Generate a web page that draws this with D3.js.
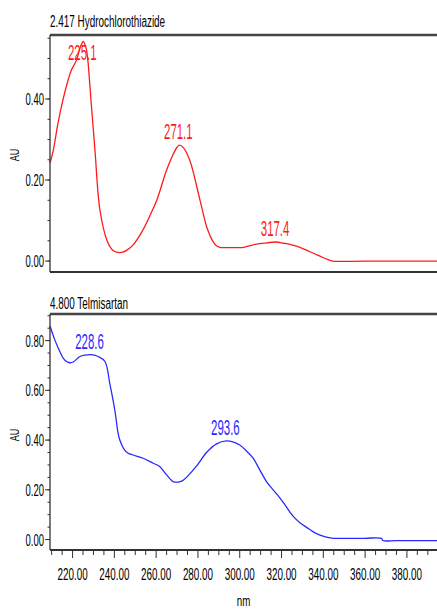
<!DOCTYPE html>
<html>
<head>
<meta charset="utf-8">
<script src="https://cdn.jsdelivr.net/npm/d3@7"></script>
<style>
  body { margin: 0; background: #fff; }
  svg { display: block; }
  text { font-family: "Liberation Sans", Arial, sans-serif; fill: #000; }
</style>
</head>
<body>
<div id="chart"></div>
<script>
// HCTZ spectrum (nm, AU)
const hctzNm = [209.2, 210.8, 213, 215.4, 217.5, 219.5, 221.9, 223.5, 225.1, 226.5, 227.3, 228.8, 230.7,
  233.1, 236.4, 239, 241, 244, 246, 249, 253.7, 257, 260.3, 265, 268, 270, 271.1, 273, 276, 281, 284.2,
  285.7, 287, 289, 290.5, 295, 301.8, 305, 308, 313, 317.4, 321, 324, 328.8, 333.6, 338.4, 342, 344.5, 360, 380, 394.4];
const hctzAu = [0.242, 0.274, 0.34, 0.398, 0.44, 0.472, 0.496, 0.525, 0.542, 0.525, 0.496, 0.398, 0.274,
  0.126, 0.052, 0.028, 0.022, 0.022, 0.027, 0.04, 0.077, 0.112, 0.15, 0.225, 0.262, 0.281, 0.286, 0.28, 0.25, 0.15, 0.084,
  0.064, 0.05, 0.037, 0.034, 0.033, 0.034, 0.038, 0.042, 0.045, 0.047, 0.044, 0.041, 0.034, 0.023, 0.012, 0.004, 0.0, 0.0, 0.0, 0.0];

// Telmisartan spectrum (nm, AU)
const telNm = [209.2, 211.5, 213.9, 215.5, 217.1, 218.7, 220.3, 223.5, 226, 228.6, 230.5, 232.2, 235.5,
  237.8, 240.2, 241.8, 242.6, 244.5, 246.6, 249, 253.8, 258.6, 261.8, 265, 268.1, 270.5, 272.5, 274.5,
  279.3, 284.1, 288.9, 293.6, 297, 300, 303, 306.4, 309.6, 312.8, 316, 319.2, 322.4,
  325.5, 328.8, 332, 335, 338.4, 341.5, 344.8, 352, 360, 367.8, 368.5, 375, 385, 394.4];
const telAu = [0.859, 0.803, 0.756, 0.73, 0.716, 0.711, 0.714, 0.736, 0.742, 0.744, 0.742, 0.736, 0.716,
  0.628, 0.521, 0.427, 0.40, 0.365, 0.347, 0.34, 0.327, 0.307, 0.293, 0.26, 0.233, 0.231, 0.236, 0.25,
  0.295, 0.35, 0.385, 0.397, 0.392, 0.38, 0.358, 0.327, 0.28, 0.233, 0.2, 0.168, 0.13,
  0.094, 0.068, 0.049, 0.032, 0.018, 0.01, 0.005, 0.005, 0.005, 0.005, -0.004, -0.004, -0.004, -0.004];

const hctzPeaks = [225.1, 271.1, 317.4];
const hctzPeakAu = [0.542, 0.286, 0.047];
const telPeaks = [228.6, 293.6];
const telPeakAu = [0.744, 0.397];

const xTicks = [220, 240, 260, 280, 300, 320, 340, 360, 380];

const W = 437, H = 609;
const left = 50, right = 437;

const svg = d3.select('#chart').append('svg')
  .attr('width', W).attr('height', H);

const x = d3.scaleLinear().domain([209.2, 394.4]).range([left, right]);

// condensed text helper
const label = (g, px, py, str, opts = {}) => {
  const t = g.append('text')
    .attr('transform', `translate(${px},${py})${opts.rotate ? ' rotate(' + opts.rotate + ')' : ''} scale(${opts.sx || 0.56},1)`)
    .attr('text-anchor', opts.anchor || 'start')
    .style('font-size', (opts.size || 17) + 'px')
    .text(str);
  if (opts.color) t.style('fill', opts.color);
  return t;
};

const panel = (props) => {
  const { title, nm, au, peaks, peakAu, color, top, bottom, yDomain, yMajor, showX } = props;
  const g = svg.append('g');
  const y = d3.scaleLinear().domain(yDomain).range([bottom, top]);

  // title
  label(g, left, props.titleY, title, { size: 16, sx: 0.62 });

  // y ticks
  const minor = d3.range(0, yDomain[1], 0.05);
  g.selectAll('.ymin').data(minor).enter().append('line')
    .attr('x1', left - 2.5).attr('x2', left)
    .attr('y1', d => y(d)).attr('y2', d => y(d))
    .attr('stroke', '#333').attr('stroke-width', 1);
  g.selectAll('.ymaj').data(yMajor).enter().append('line')
    .attr('x1', left - 5).attr('x2', left)
    .attr('y1', d => y(d)).attr('y2', d => y(d))
    .attr('stroke', '#333').attr('stroke-width', 1);
  yMajor.forEach(v => label(g, left - 6, y(v) + 6, v.toFixed(2), { anchor: 'end', size: 17, sx: 0.56 }));

  // AU label
  label(g, 19, props.auY, 'AU', { rotate: -90, anchor: 'middle', size: 12, sx: 0.75 });

  // curve
  const pts = nm.map((d, i) => [d, au[i]]);
  const line = d3.line().x(d => x(d[0])).y(d => y(d[1])).curve(d3.curveCatmullRom.alpha(0.5));
  g.append('path').datum(pts)
    .attr('d', line)
    .attr('fill', 'none')
    .attr('stroke', color)
    .attr('stroke-width', 1.3);

  // peak labels
  peaks.forEach((p, i) => {
    const py = Math.max(y(peakAu[i]) - 6, top + 25);
    label(g, x(p) - 1, py, p.toFixed(1), { anchor: 'middle', size: 22, sx: 0.52, color });
  });

  // frame
  g.append('line').attr('x1', left).attr('x2', right).attr('y1', top).attr('y2', top)
    .attr('stroke', '#444').attr('stroke-width', 2.5);
  g.append('line').attr('x1', left).attr('x2', left).attr('y1', top).attr('y2', bottom)
    .attr('stroke', '#333').attr('stroke-width', 1.3);
  g.append('line').attr('x1', left).attr('x2', right).attr('y1', bottom).attr('y2', bottom)
    .attr('stroke', '#333').attr('stroke-width', 2);

  if (showX) {
    const xm = d3.range(210, 395, 5);
    g.selectAll('.xmin').data(xm).enter().append('line')
      .attr('x1', d => x(d)).attr('x2', d => x(d))
      .attr('y1', bottom).attr('y2', d => bottom + (d % 20 === 0 ? 8 : 5))
      .attr('stroke', '#333').attr('stroke-width', 1);
    xTicks.forEach(v => label(g, x(v), bottom + 30, v.toFixed(2), { anchor: 'middle', size: 17, sx: 0.58 }));
    label(g, (left + right) / 2, H - 3, 'nm', { anchor: 'middle', size: 15, sx: 0.65 });
  }
};

panel({
  title: '2.417 Hydrochlorothiazide',
  nm: hctzNm, au: hctzAu, peaks: hctzPeaks, peakAu: hctzPeakAu,
  color: '#ff1a1a', top: 35, bottom: 272, yDomain: [-0.027, 0.558],
  yMajor: [0, 0.2, 0.4], auY: 155, titleY: 27, showX: false
});

panel({
  title: '4.800 Telmisartan',
  nm: telNm, au: telAu, peaks: telPeaks, peakAu: telPeakAu,
  color: '#2929ff', top: 314, bottom: 550, yDomain: [-0.042, 0.907],
  yMajor: [0, 0.2, 0.4, 0.6, 0.8], auY: 435, titleY: 309, showX: true
});
</script>
</body>
</html>
